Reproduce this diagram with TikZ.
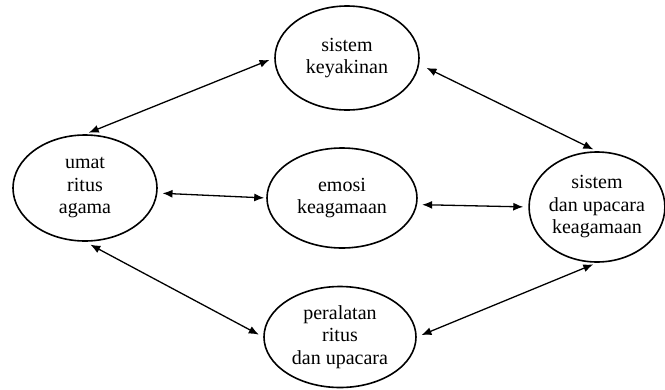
\documentclass[tikz,border=0pt]{standalone}
\usepackage{fontspec}
\setmainfont{Liberation Serif}
\usetikzlibrary{arrows.meta,shapes.geometric}
\begin{document}
\begin{tikzpicture}[x=1pt,y=-1pt,
  oval/.style={ellipse, draw, line width=1.6pt, inner sep=0pt, align=center,
    font=\fontsize{20}{22.5}\selectfont},
  biarrow/.style={{Latex[length=10pt,width=8pt]}-{Latex[length=10pt,width=8pt]}, line width=1.3pt}]
\useasboundingbox (0,0) rectangle (665,389);
\node[oval, minimum width=144pt, minimum height=104pt] (top) at (347,58) {sistem\\keyakinan};
\node[oval, minimum width=144pt, minimum height=106pt] (umat) at (85,188) {umat\\ritus\\agama};
\node[oval, minimum width=150pt, minimum height=100pt] (emosi) at (342,198) {emosi\\keagamaan};
\node[oval, minimum width=134pt, minimum height=110pt] (right) at (597,207) {sistem\\dan upacara\\keagamaan};
\node[oval, minimum width=152pt, minimum height=101pt] (bottom) at (340,337) {peralatan\\ritus\\dan upacara};
\draw[biarrow, shorten <=4pt, shorten >=5pt] (umat.north) -- (top.west);
\draw[biarrow, shorten <=8pt, shorten >=4pt] (top.-5) -- (right.north);
\draw[biarrow, shorten <=5pt, shorten >=2pt] (umat.-4) -- (emosi.west);
\draw[biarrow, shorten <=5pt, shorten >=5pt] (emosi.-5) -- (right.west);
\draw[biarrow, shorten <=6pt, shorten >=5pt] (umat.south) -- (bottom.west);
\draw[biarrow, shorten <=5pt, shorten >=4pt] (bottom.east) -- (right.south);
\end{tikzpicture}
\end{document}
